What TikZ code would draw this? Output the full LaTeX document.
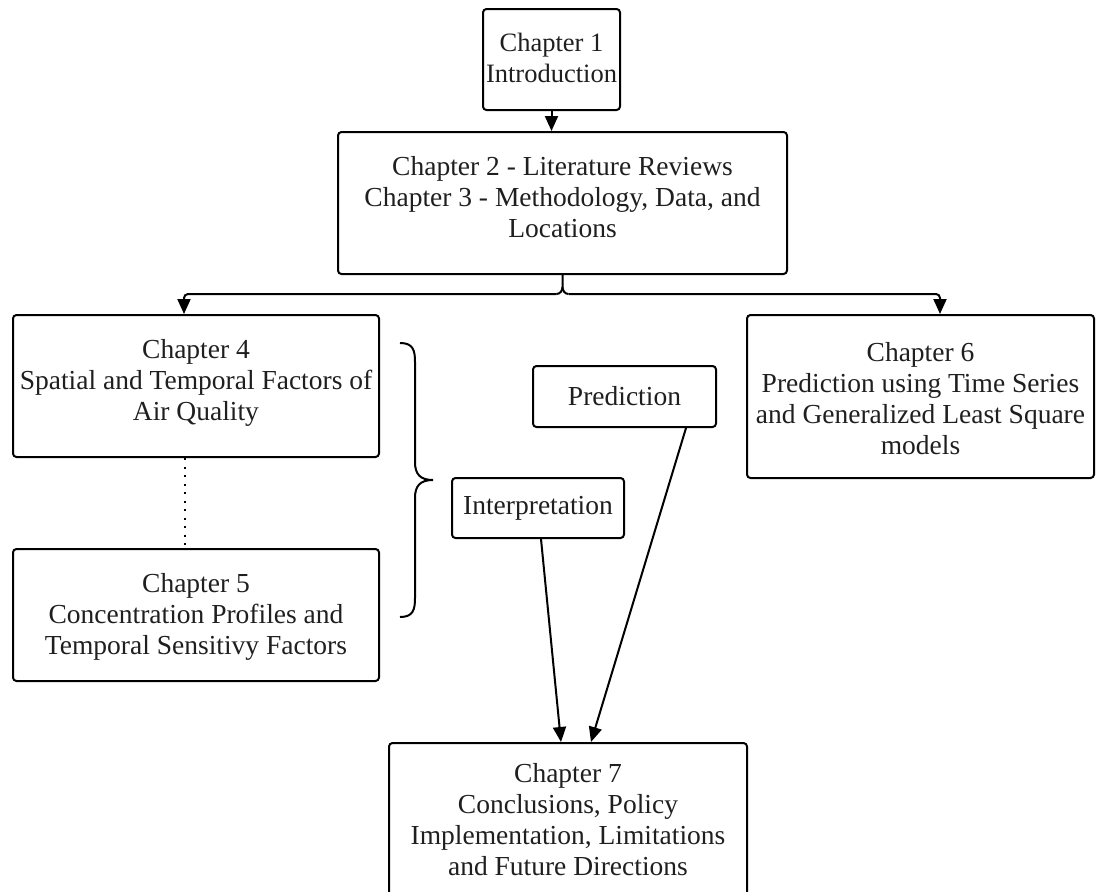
\documentclass[tikz,border=0pt]{standalone}
\usepackage{fontspec}
\setmainfont{Liberation Serif}
\usetikzlibrary{arrows.meta}
\begin{document}
\begin{tikzpicture}[x=1pt,y=-1pt,
  box/.style={draw, line width=2pt, rounded corners=3.5pt, inner sep=0pt},
  txt/.style={align=center, inner sep=0pt, text=black!88, font=\fontsize{27.5}{31}\selectfont},
  conn/.style={line width=2pt},
  arr/.style={conn, -{Triangle[length=15pt,width=13pt]}}]
\clip (0,0) rectangle (1096,892);
\useasboundingbox (0,0) rectangle (1096,892);
% boxes
\node[box, minimum width=137pt, minimum height=101pt] (c1) at (551.5,59.5) {};
\node[box, minimum width=449pt, minimum height=142pt] (c2) at (562.5,203) {};
\node[box, minimum width=366pt, minimum height=142pt] (c4) at (196,386) {};
\node[box, minimum width=366pt, minimum height=132pt] (c5) at (196,615) {};
\node[box, minimum width=347pt, minimum height=163pt] (c6) at (920.5,396.5) {};
\node[box, minimum width=183pt, minimum height=61pt] (pred) at (624.5,396.5) {};
\node[box, minimum width=172pt, minimum height=60pt] (interp) at (538,508) {};
\node[box, minimum width=358pt, minimum height=180pt] (c7) at (568,833) {};
% texts
\node[txt, font=\fontsize{26.5}{31}\selectfont] (t1) at (551.5,58) {Chapter 1\\Introduction};
\node[txt] (t2) at (562.5,197.5) {Chapter 2 - Literature Reviews\\Chapter 3 - Methodology, Data, and\\Locations};
\node[txt] (t4) at (196,383) {Chapter 4\\Spatial and Temporal Factors of\\Air Quality};
\node[txt] (t5) at (196,616.5) {Chapter 5\\Concentration Profiles and\\Temporal Sensitivy Factors};
\node[txt] (t6) at (920.5,399) {Chapter 6\\Prediction using Time Series\\and Generalized Least Square\\models};
\node[txt] (tp) at (pred.center) {Prediction};
\node[txt] (ti) at (interp.center) {Interpretation};
\node[txt] (t7) at (568,819.5) {Chapter 7\\Conclusions, Policy\\Implementation, Limitations\\and Future Directions};
% connectors
\coordinate (j) at (562.5,294);
\coordinate (jl) at (184,294);
\coordinate (jr) at (940,294);
\draw[arr] (c1.south) -- (c1.south |- c2.north);
\draw[conn] (c2.south) -- ([yshift=-12pt]c2.south) to[out=-90,in=0] ([xshift=-6pt]j);
\draw[conn] ([yshift=-12pt]c2.south) to[out=-90,in=180] ([xshift=6pt]j);
\draw[arr, rounded corners=4pt] ([xshift=-6pt]j) -- (jl) -- (jl |- c4.north);
\draw[arr, rounded corners=4pt] ([xshift=6pt]j) -- (jr) -- (jr |- c6.north);
\draw[line width=2pt, dash pattern=on 2.2pt off 6.3pt] (c4.south -| 185,0) -- (c5.north -| 185,0);
\draw[conn] (400,343) .. controls (413,343) and (415,350) .. (415,362) -- (415,462) .. controls (415,474) and (420,480) .. (433,480) .. controls (420,480) and (415,486) .. (415,498) -- (415,598) .. controls (415,610) and (413,617) .. (400,617);
\draw[arr] (interp.south -| 541,0) -- (c7.north -| 561,0);
\draw[arr] (pred.south -| 686,0) -- (c7.north -| 591,0);
\end{tikzpicture}
\end{document}
